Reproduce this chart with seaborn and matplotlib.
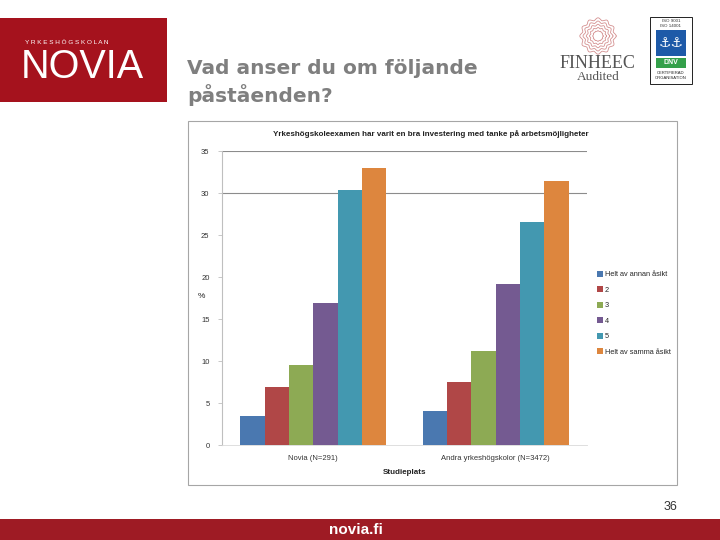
import matplotlib
matplotlib.use("Agg")
import matplotlib.pyplot as plt
import seaborn as sns
import pandas as pd
import numpy as np
from matplotlib.patches import Rectangle

# ---------------- data ----------------
categories = ["Novia (N=291)", "Andra yrkeshögskolor (N=3472)"]
responses = ["Helt av annan åsikt", "2", "3", "4", "5", "Helt av samma åsikt"]
novia_values = [3.5, 6.9, 9.5, 16.9, 30.3, 33.0]
andra_values = [4.1, 7.5, 11.2, 19.2, 26.6, 31.4]
y_ticks = [0, 5, 10, 15, 20, 25, 30, 35]
chart_title = "Yrkeshögskoleexamen har varit en bra investering med tanke på arbetsmöjligheter"
slide_title_1 = "Vad anser du om följande"
slide_title_2 = "påståenden?"

colors = ["#4A78B0", "#B04747", "#8DAA54", "#745A91", "#4398B0", "#DD863E"]

rows = []
for cat, vals in zip(categories, [novia_values, andra_values]):
    for resp, v in zip(responses, vals):
        rows.append({"Studieplats": cat, "Svar": resp, "Procent": v})
df = pd.DataFrame(rows)

sns.set_theme(style="white")
plt.rcParams["font.family"] = ["Liberation Sans", "DejaVu Sans"]

W, H = 720, 540
fig = plt.figure(figsize=(7.2, 5.4), dpi=100)
fig.patch.set_facecolor("white")

# background axes in pixel coordinates for slide decoration
bg = fig.add_axes([0, 0, 1, 1], zorder=-1)
bg.set_xlim(0, W)
bg.set_ylim(H, 0)
bg.axis("off")

# Novia logo block
bg.add_patch(Rectangle((0, 18), 167, 84, color="#A5121D", lw=0))
bg.text(25, 42, "Y R K E S H Ö G S K O L A N", color="white", fontsize=4.6, va="center", ha="left")
bg.text(21, 78, "NOVIA", color="white", fontsize=28.5, va="baseline", ha="left",
        family=["Liberation Sans", "DejaVu Sans"])

# slide title
bg.text(187, 68, slide_title_1, color="#7F7F7F", fontsize=14.5, fontweight="bold",
        va="center", ha="left", family="DejaVu Sans")
bg.text(187, 95, slide_title_2, color="#7F7F7F", fontsize=14.5, fontweight="bold",
        va="center", ha="left", family="DejaVu Sans")

# FINHEEC logo
th = np.linspace(0, 2 * np.pi, 400)
for R in [5, 8, 11, 14, 17]:
    r = R * (1 + 0.07 * np.cos(12 * th))
    bg.plot(598 + r * np.cos(th), 36 + r * np.sin(th), color="#D49090", lw=0.6)
bg.text(597, 63, "FINHEEC", color="#555555", fontsize=13, family="Liberation Serif",
        ha="center", va="center")
bg.text(598, 77, "Audited", color="#555555", fontsize=9.5, family="Liberation Serif",
        ha="center", va="center")

# DNV logo
bg.add_patch(Rectangle((650, 17), 42, 67, fill=False, ec="#222222", lw=0.7))
bg.text(671, 21, "ISO 9001", fontsize=3.2, ha="center", va="center", color="#333333")
bg.text(671, 26, "ISO 14001", fontsize=3.2, ha="center", va="center", color="#333333")
bg.add_patch(Rectangle((656, 30), 30, 26, color="#1E5AA8", lw=0))
bg.text(671, 43, "⚓⚓", fontsize=10, ha="center", va="center", color="white",
        family="DejaVu Sans")
bg.add_patch(Rectangle((656, 58), 30, 10, color="#34A04A", lw=0))
bg.text(671, 63, "DNV", fontsize=5, ha="center", va="center", color="white", fontweight="bold")
bg.text(671, 73, "CERTIFIERAD", fontsize=3, ha="center", va="center", color="#222222")
bg.text(671, 78, "ORGANISATION", fontsize=3, ha="center", va="center", color="#222222")

# chart frame
bg.add_patch(Rectangle((188, 121), 489, 364, fill=False, ec="#A6A6A6", lw=0.8))

# page number and footer
bg.text(670, 507, "36", fontsize=9, color="#333333", ha="center", va="center")
bg.add_patch(Rectangle((0, 519), W, 21, color="#9E1B24", lw=0))
bg.text(356, 529.5, "novia.fi", fontsize=11, color="white", fontweight="bold",
        ha="center", va="center")

# ---------------- chart ----------------
ax = fig.add_axes([222 / W, 1 - 445 / H, (587 - 222) / W, (445 - 151) / H])
ax.patch.set_alpha(0)
sns.barplot(data=df, x="Studieplats", y="Procent", hue="Svar", hue_order=responses,
            order=categories, palette=colors, saturation=1, linewidth=0, ax=ax,
            errorbar=None, width=0.8)

ax.set_ylim(0, 35)
ax.set_xlim(-0.5, 1.5)
ax.set_yticks(y_ticks)
ax.set_yticklabels([str(t) for t in y_ticks], fontsize=5.5, color="#333333")
for yv in (30, 35):
    ax.axhline(yv, color="#8C8C8C", lw=0.8, zorder=0)

for s in ["top", "right"]:
    ax.spines[s].set_visible(False)
ax.spines["left"].set_color("#BFBFBF")
ax.spines["left"].set_linewidth(0.8)
ax.spines["bottom"].set_color("#D9D9D9")
ax.spines["bottom"].set_linewidth(0.6)
ax.tick_params(axis="y", length=3, width=0.6, color="#BFBFBF", pad=6, left=True)
ax.tick_params(axis="x", length=0, pad=7, labelsize=5.5, labelcolor="#333333")

ax.set_ylabel("")
ax.set_xlabel("Studieplats", fontsize=5.8, fontweight="bold", labelpad=5, color="#222222")
fig.text(201 / W, 1 - 297 / H, "%", fontsize=6, ha="center", va="center", color="#222222")
fig.text(431 / W, 1 - 134 / H, chart_title, fontsize=5.8, fontweight="bold",
         ha="center", va="center", color="#222222")

handles, labels = ax.get_legend_handles_labels()
if ax.get_legend() is not None:
    ax.get_legend().remove()
fig.legend(handles, labels, loc="upper left", bbox_to_anchor=(597 / W, 1 - 271 / H),
           frameon=False, fontsize=5.3, handlelength=0.8, handleheight=0.8,
           handletextpad=0.3, labelspacing=1.1, borderpad=0, borderaxespad=0)

fig.savefig("out.png", dpi=100, facecolor="white")
